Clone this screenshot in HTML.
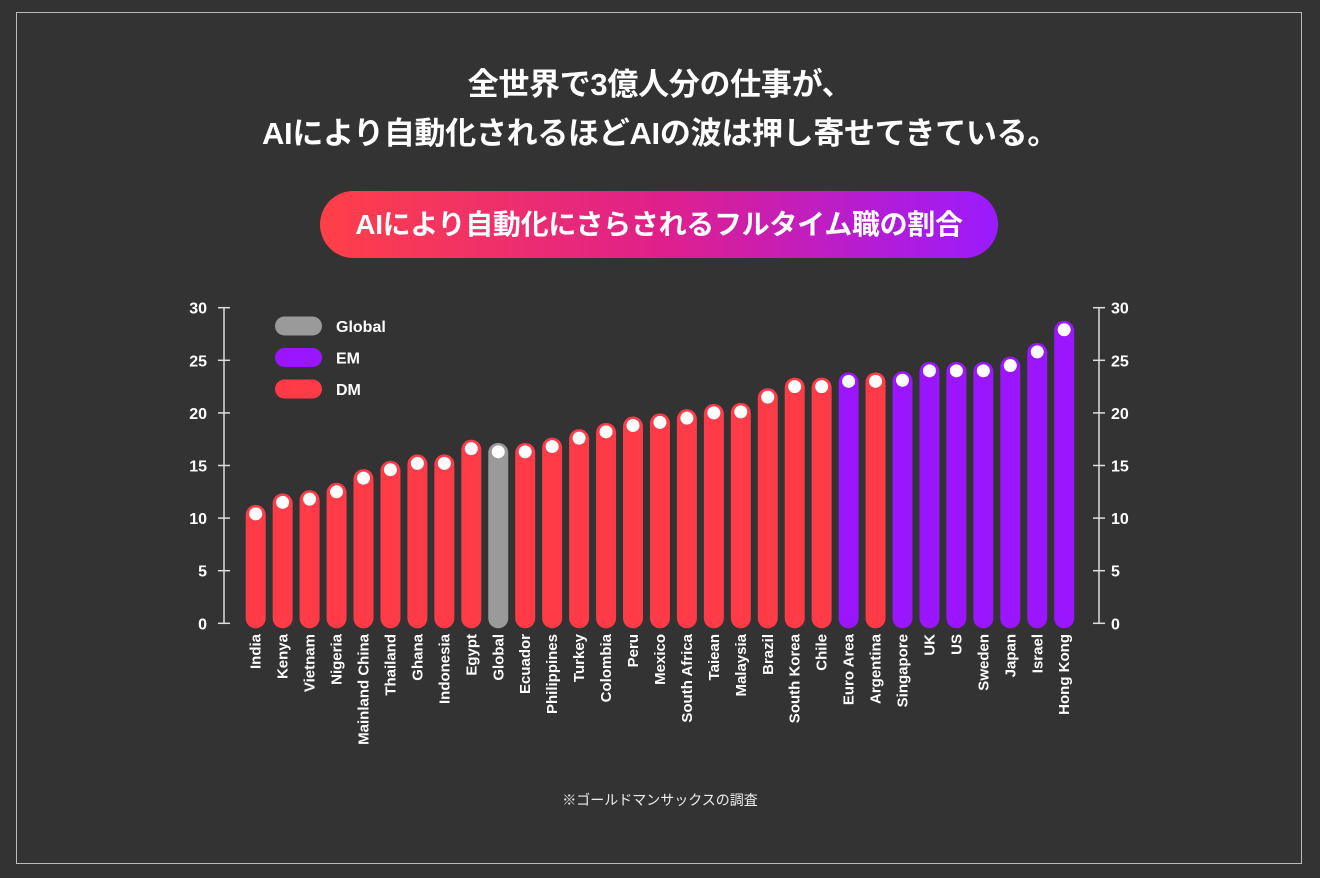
<!DOCTYPE html>
<html><head><meta charset="utf-8"><style>
body{margin:0;background:#333333;width:1320px;height:878px;overflow:hidden;font-family:"Liberation Sans","Noto Sans CJK JP",sans-serif;}
.frame{position:absolute;left:16px;top:12px;width:1286px;height:852px;border:1.5px solid #bbb;box-sizing:border-box}
.title{position:absolute;left:0;width:1320px;top:60px;text-align:center;color:#fff;font-weight:bold;font-size:31px;line-height:49px;letter-spacing:-0.3px}
.pill{position:absolute;left:320px;top:191px;width:678px;height:67px;border-radius:34px;background:linear-gradient(90deg,#ff4048,#e0208a 50%,#9a1bff);color:#fff;font-weight:bold;font-size:28px;line-height:67px;text-align:center;letter-spacing:-0.3px}
.note{position:absolute;left:0;width:1320px;top:790px;text-align:center;color:#eee;font-size:14px}
</style></head><body>
<div class="frame"></div>
<div class="title">全世界で3億人分の仕事が、<br>AIにより自動化されるほどAIの波は押し寄せてきている。</div>
<div class="pill">AIにより自動化にさらされるフルタイム職の割合</div>
<svg id="chart" width="1320" height="878" style="position:absolute;left:0;top:0"></svg>
<div class="note">※ゴールドマンサックスの調査</div>
<script>
const categories=["India","Kenya","Vietnam","Nigeria","Mainland China","Thailand","Ghana","Indonesia","Egypt","Global","Ecuador","Philippines","Turkey","Colombia","Peru","Mexico","South Africa","Taiean","Malaysia","Brazil","South Korea","Chile","Euro Area","Argentina","Singapore","UK","US","Sweden","Japan","Israel","Hong Kong"];
const values=[10.4,11.5,11.8,12.5,13.8,14.6,15.2,15.2,16.6,16.3,16.3,16.8,17.6,18.2,18.8,19.1,19.5,20.0,20.1,21.5,22.5,22.5,23.0,23.0,23.1,24.0,24.0,24.0,24.5,25.8,27.9];
const groups=["DM","DM","DM","DM","DM","DM","DM","DM","DM","Global","DM","DM","DM","DM","DM","DM","DM","DM","DM","DM","DM","DM","EM","DM","EM","EM","EM","EM","EM","EM","EM"];
const ticks=[0,5,10,15,20,25,30];
const legendItems=["Global","EM","DM"];
const colors={Global:"#9a9a9a",EM:"#9b16ff",DM:"#ff3b47"};
const svg=document.getElementById('chart');const NS="http://www.w3.org/2000/svg";
const y=v=>623.3-v*10.52;const x=i=>255.7+i*26.95;
function mk(t,a,p){const e=document.createElementNS(NS,t);for(const k in a)e.setAttribute(k,a[k]);(p||svg).appendChild(e);return e;}
[[224,-1],[1099,1]].forEach(([ax,s])=>{
 const l=mk('line',{x1:ax,x2:ax,y1:y(30),y2:y(0),stroke:'#ddd','stroke-width':1.5});
 
 ticks.forEach(t=>{mk('line',{x1:ax-6,x2:ax+6,y1:y(t),y2:y(t),stroke:'#ddd','stroke-width':1.5});
  const tx=mk('text',{x:s<0?ax-17:ax+12,y:y(t)+6,fill:'#fff','font-size':16,'font-weight':'bold','text-anchor':s<0?'end':'start'});tx.textContent=t;
  });
});
categories.forEach((c,i)=>{
 const cx=x(i),top=y(values[i])-9;
 const b=mk('rect',{x:cx-10,y:top,width:20,height:y(0)-top+5,rx:10,fill:colors[groups[i]]});
 
 const d=mk('circle',{cx:cx,cy:y(values[i]),r:6.5,fill:'#fff'});
 
 const t=mk('text',{x:0,y:0,fill:'#fff','font-size':15,'font-weight':'bold','text-anchor':'end',transform:`translate(${cx+5},634) rotate(-90)`});t.textContent=c;
 
});
legendItems.forEach((g,i)=>{
 const ly=326+i*31.5;
 const r=mk('rect',{x:275,y:ly-9.5,width:47,height:19,rx:9.5,fill:colors[g]});
 
 const t=mk('text',{x:336,y:ly+6,fill:'#fff','font-size':16,'font-weight':'bold'});t.textContent=g;
 
});
</script>
</body></html>
